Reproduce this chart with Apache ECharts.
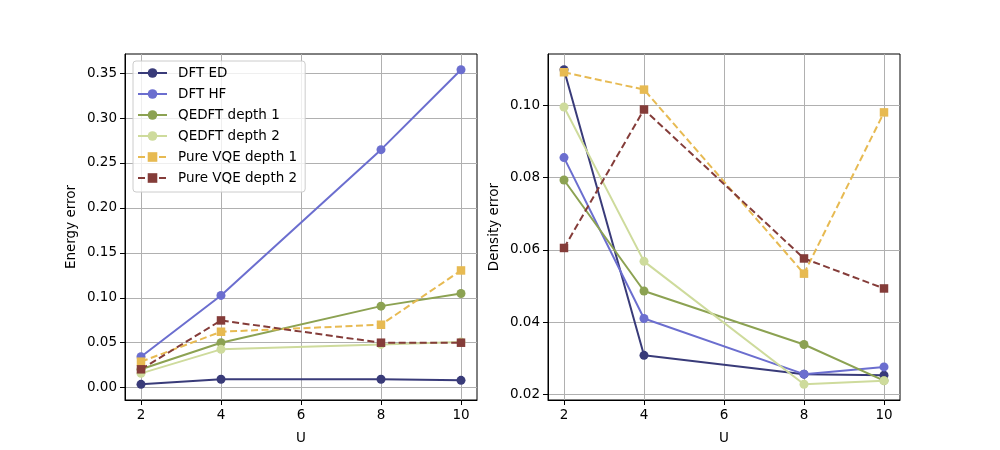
<!DOCTYPE html>
<html>
<head>
<meta charset="utf-8">
<script src="https://cdn.jsdelivr.net/npm/echarts@6/dist/echarts.min.js"></script>
<style>
  html, body { margin: 0; padding: 0; background: #fff; }
  #chart { width: 1000px; height: 450px; }
</style>
</head>
<body>
<div id="chart"></div>
<script>
// x values (U)
const uValues = [2, 4, 8, 10];
const seriesNames = ['DFT ED', 'DFT HF', 'QEDFT depth 1', 'QEDFT depth 2', 'Pure VQE depth 1', 'Pure VQE depth 2'];

// energy error (left panel)
const energyDftEd = [0.0037, 0.0093, 0.0093, 0.0081];
const energyDftHf = [0.0344, 0.1026, 0.2648, 0.3537];
const energyQedft1 = [0.0204, 0.0500, 0.0907, 0.1048];
const energyQedft2 = [0.0159, 0.0426, 0.0481, 0.0507];
const energyVqe1 = [0.0289, 0.0622, 0.0700, 0.1304];
const energyVqe2 = [0.0204, 0.0748, 0.0500, 0.0500];

// density error (right panel)
const densityDftEd = [0.1098, 0.0308, 0.0256, 0.0253];
const densityDftHf = [0.0855, 0.0410, 0.0256, 0.0276];
const densityQedft1 = [0.0793, 0.0486, 0.0338, 0.0238];
const densityQedft2 = [0.0995, 0.0568, 0.0228, 0.0238];
const densityVqe1 = [0.1091, 0.1043, 0.0534, 0.0980];
const densityVqe2 = [0.0605, 0.0988, 0.0576, 0.0493];

const xTicks = [2, 4, 6, 8, 10];
const energyTicks = [0, 0.05, 0.10, 0.15, 0.20, 0.25, 0.30, 0.35];
const densityTicks = [0.02, 0.04, 0.06, 0.08, 0.10];

const colors = ['#393b79', '#6b6ecf', '#8ca252', '#cedb9c', '#e7ba52', '#843c39'];
const symbols = ['circle', 'circle', 'circle', 'circle', 'rect', 'rect'];
const dashed = [false, false, false, false, true, true];

const energySets = [energyDftEd, energyDftHf, energyQedft1, energyQedft2, energyVqe1, energyVqe2];
const densitySets = [densityDftEd, densityDftHf, densityQedft1, densityQedft2, densityVqe1, densityVqe2];

const font = 'DejaVu Sans';

function makeXAxis(gridIndex) {
  return {
    type: 'value',
    gridIndex: gridIndex,
    min: 1.6,
    max: 10.4,
    name: 'U',
    nameLocation: 'middle',
    nameGap: 31,
    nameTextStyle: { color: '#000', fontSize: 13.5, fontFamily: font },
    axisLine: { show: true, onZero: false, lineStyle: { color: '#000', width: 1 } },
    axisTick: { show: true, length: 5, lineStyle: { color: '#000', width: 1 }, customValues: xTicks },
    axisLabel: { color: '#000', fontSize: 13.5, fontFamily: font, margin: 8, customValues: xTicks },
    splitLine: { show: true, lineStyle: { color: '#b0b0b0', width: 1 } }
  };
}

function makeYAxis(gridIndex, name, min, max, ticks) {
  return {
    type: 'value',
    gridIndex: gridIndex,
    min: min,
    max: max,
    name: name,
    nameLocation: 'middle',
    nameGap: 47,
    nameTextStyle: { color: '#000', fontSize: 13.5, fontFamily: font },
    axisLine: { show: true, onZero: false, lineStyle: { color: '#000', width: 1 } },
    axisTick: { show: true, length: 5, lineStyle: { color: '#000', width: 1 }, customValues: ticks },
    axisLabel: {
      color: '#000', fontSize: 13.5, fontFamily: font, margin: 8, customValues: ticks,
      formatter: v => v.toFixed(2)
    },
    splitLine: { show: true, lineStyle: { color: '#b0b0b0', width: 1 } }
  };
}

function makeSeries(sets, axisIndex) {
  return sets.map((vals, i) => ({
    name: seriesNames[i],
    type: 'line',
    xAxisIndex: axisIndex,
    yAxisIndex: axisIndex,
    data: uValues.map((u, j) => [u, vals[j]]),
    symbol: symbols[i],
    symbolSize: symbols[i] === 'rect' ? 8.5 : 9,
    showSymbol: true,
    color: colors[i],
    lineStyle: { color: colors[i], width: 2, type: dashed[i] ? [7, 3.5] : 'solid' },
    itemStyle: { color: colors[i], borderWidth: 0 },
    emphasis: { disabled: true },
    z: 2 + i
  }));
}

const chart = echarts.init(document.getElementById('chart'), null, { renderer: 'canvas' });

const option = {
  animation: false,
  backgroundColor: '#fff',
  grid: [
    { left: 125, right: 523, top: 54, bottom: 50, show: true, borderColor: '#000', borderWidth: 1, backgroundColor: 'transparent' },
    { left: 548, right: 100, top: 54, bottom: 50, show: true, borderColor: '#000', borderWidth: 1, backgroundColor: 'transparent' }
  ],
  legend: {
    data: seriesNames,
    orient: 'vertical',
    left: 133,
    top: 61,
    padding: [5, 8, 7, 4],
    itemWidth: 29,
    itemHeight: 12,
    itemGap: 7,
    backgroundColor: 'rgba(255,255,255,0.8)',
    borderColor: '#cccccc',
    borderWidth: 1,
    borderRadius: 3,
    textStyle: { color: '#000', fontSize: 13.5, fontFamily: font, padding: [0, 0, 0, 6] },
    selectedMode: false
  },
  xAxis: [makeXAxis(0), makeXAxis(1)],
  yAxis: [
    makeYAxis(0, 'Energy error', -0.01375, 0.37125, energyTicks),
    makeYAxis(1, 'Density error', 0.01845, 0.11415, densityTicks)
  ],
  series: makeSeries(energySets, 0).concat(makeSeries(densitySets, 1))
};

chart.setOption(option);
</script>
</body>
</html>
